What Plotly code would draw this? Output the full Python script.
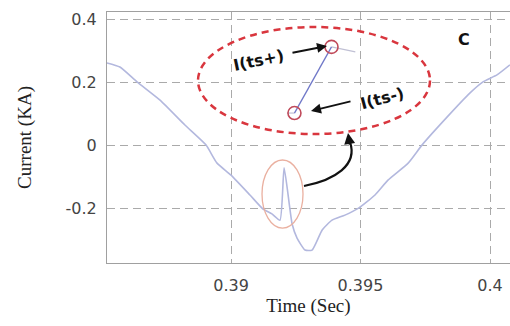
import plotly.graph_objects as go

# Main current waveform
time_s = [0.38521, 0.38571, 0.38637, 0.38726, 0.38822, 0.38903, 0.38946, 0.39000,
          0.39073, 0.39124, 0.39158, 0.39189, 0.39205, 0.39236, 0.39255, 0.39286,
          0.39313, 0.39352, 0.39390, 0.39440, 0.39494, 0.39556, 0.39606, 0.39684,
          0.39738, 0.39834, 0.39923, 0.39973, 0.40027, 0.40077]
current_ka = [0.262, 0.249, 0.202, 0.144, 0.065, 0.002, -0.056, -0.094,
              -0.157, -0.202, -0.217, -0.237, -0.071, -0.249, -0.294, -0.332,
              -0.332, -0.268, -0.237, -0.221, -0.198, -0.157, -0.110, -0.056,
              0.002, 0.090, 0.167, 0.202, 0.224, 0.256]

# Zoomed inset of the jump: I(ts-) and I(ts+)
inset_t = [0.39245, 0.39388]
inset_i = [0.103, 0.313]
inset_ext_t = [0.39216, 0.39245, None, 0.39388, 0.39480]
inset_ext_i = [0.103, 0.103, None, 0.313, 0.297]

x_ticks = [0.39, 0.395, 0.4]
x_tick_labels = ["0.39", "0.395", "0.4"]
y_ticks = [-0.2, 0, 0.2, 0.4]
y_tick_labels = ["-0.2", "0", "0.2", "0.4"]

fig = go.Figure()
fig.add_trace(go.Scatter(x=time_s, y=current_ka, mode="lines",
                         line=dict(color="#b3b8de", width=1.6, shape="spline", smoothing=0.5),
                         hoverinfo="skip"))
fig.add_trace(go.Scatter(x=inset_ext_t, y=inset_ext_i, mode="lines",
                         line=dict(color="#c0c0d4", width=1.2)))
fig.add_trace(go.Scatter(x=inset_t, y=inset_i, mode="lines",
                         line=dict(color="#7078c8", width=1.3)))
fig.add_trace(go.Scatter(x=inset_t, y=inset_i, mode="markers",
                         marker=dict(symbol="circle-open", size=13, color="#c04a5a",
                                     line=dict(color="#c04a5a", width=1.6))))

# Ellipses
fig.add_shape(type="circle", xref="x", yref="y",
              x0=0.388726, x1=0.397683, y0=0.0365, y1=0.3762,
              line=dict(color="#d9363e", width=2.5, dash="7px,5px"))
fig.add_shape(type="circle", xref="x", yref="y",
              x0=0.391197, x1=0.392780, y0=-0.262, y1=-0.046,
              line=dict(color="#eab0a0", width=1.3))
# Curved pointer from small ellipse to big one
fig.add_shape(type="path", xref="x", yref="y",
              path="M 0.392818,-0.1286 C 0.394015,-0.1095 0.394903,-0.0619 0.394594,0.0111",
              line=dict(color="#111", width=2.2))
fig.add_annotation(x=0.394517, y=0.0397, ax=2, ay=13, text="", showarrow=True,
                   arrowhead=2, arrowsize=1, arrowwidth=2.2, arrowcolor="#111")

# Labels and arrows
fig.add_annotation(x=0.391042, y=0.2714, text="<b>I(ts+)</b>", showarrow=False,
                   textangle=-12, font=dict(family="DejaVu Sans", size=16, color="#111"))
fig.add_annotation(x=0.393706, y=0.3159, ax=-36, ay=7, text="", showarrow=True,
                   arrowhead=2, arrowsize=1, arrowwidth=2, arrowcolor="#111")
fig.add_annotation(x=0.395830, y=0.1508, text="<b>I(ts-)</b>", showarrow=False,
                   textangle=-15, font=dict(family="DejaVu Sans", size=16, color="#111"))
fig.add_annotation(x=0.393089, y=0.1095, ax=41, ay=-10, text="", showarrow=True,
                   arrowhead=2, arrowsize=1, arrowwidth=2, arrowcolor="#111")
fig.add_annotation(x=0.399, y=0.338, text="<b>C</b>", showarrow=False,
                   font=dict(family="DejaVu Sans", size=16, color="#111"))

fig.update_layout(
    width=510, height=326,
    margin=dict(l=107, r=0, t=12, b=63),
    paper_bgcolor="white", plot_bgcolor="white",
    showlegend=False,
    xaxis=dict(range=[0.385212, 0.400772], tickvals=x_ticks, ticktext=x_tick_labels,
               automargin=False,
               showgrid=True, gridcolor="#aaaaaa", griddash="8px,5px", gridwidth=1,
               showline=True, linecolor="#a0a0a0", linewidth=1, mirror=True,
               zeroline=False, ticks="", ticklabelstandoff=8,
               tickfont=dict(family="DejaVu Sans", size=16, color="#444"),
               title=dict(text="Time (Sec)", standoff=3,
                          font=dict(family="Liberation Serif", size=19, color="#222"))),
    yaxis=dict(range=[-0.373, 0.4238], tickvals=y_ticks, ticktext=y_tick_labels,
               automargin=False,
               showgrid=True, gridcolor="#aaaaaa", griddash="8px,5px", gridwidth=1,
               showline=True, linecolor="#a0a0a0", linewidth=1,
               zeroline=False, ticks="", ticklabelstandoff=6,
               tickfont=dict(family="DejaVu Sans", size=16, color="#444"),
               title=dict(text="Current (KA)", standoff=28,
                          font=dict(family="Liberation Serif", size=19, color="#222"))),
)

fig.write_html("out.html", config={"displayModeBar": False},
               post_script="document.body.style.margin='0';")
